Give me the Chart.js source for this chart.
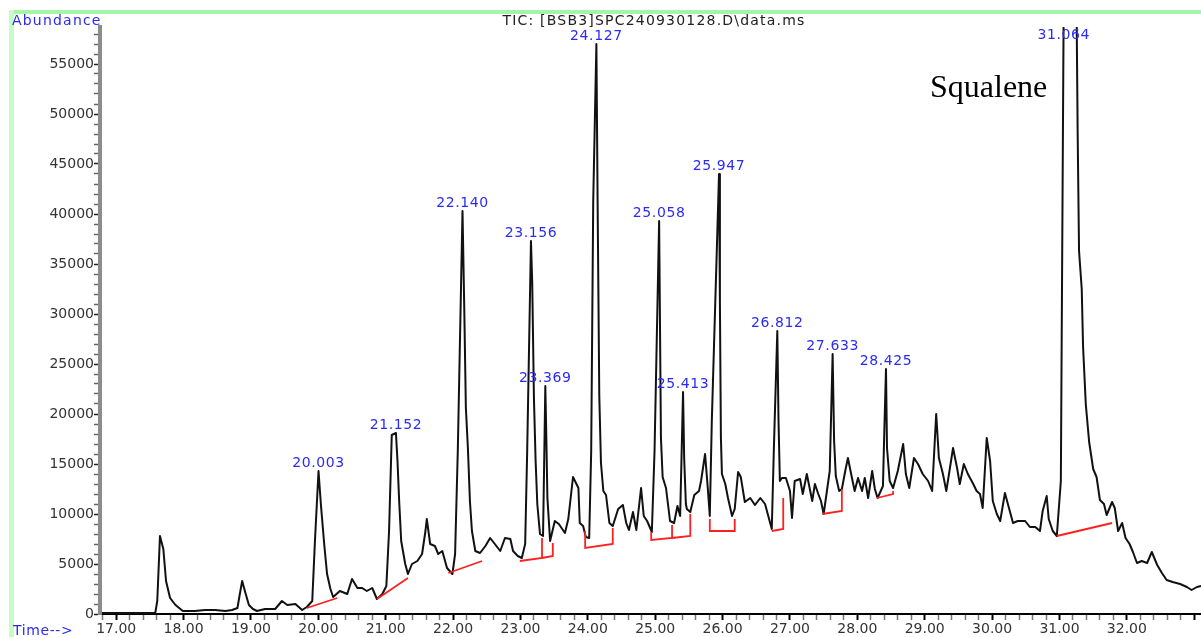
<!DOCTYPE html>
<html>
<head>
<meta charset="utf-8">
<script src="https://cdn.jsdelivr.net/npm/chart.js@4.4.1/dist/chart.umd.min.js"></script>
<style>
  html, body { margin: 0; padding: 0; background: #fff; }
  canvas { display: block; }
</style>
</head>
<body>
<canvas id="tic" width="1201" height="637"></canvas>
<script>
// ─── DATA ─────────────────────────────────────────────────────────────────────
const TITLE = 'TIC: [BSB3]SPC240930128.D\\data.ms';

// retention time (min) and abundance of the total ion chromatogram
const RT = [
  16.76, 17.06, 17.36, 17.58, 17.61, 17.65, 17.70, 17.74, 17.80, 17.88, 17.99, 18.17, 18.32, 18.47, 18.62, 18.72,
  18.80, 18.83, 18.87, 18.91, 18.97, 19.03, 19.09, 19.21, 19.36, 19.46, 19.54, 19.66, 19.76, 19.83, 19.91, 19.95,
  20.003, 20.04, 20.09, 20.13, 20.18, 20.22, 20.32, 20.43, 20.50, 20.58, 20.65, 20.72, 20.80, 20.87, 20.95, 21.01,
  21.05, 21.09, 21.152, 21.175, 21.20, 21.23, 21.29, 21.33, 21.39, 21.47, 21.54, 21.59, 21.61, 21.66, 21.73, 21.78,
  21.84, 21.91, 21.99, 22.03, 22.07, 22.140, 22.165, 22.19, 22.22, 22.25, 22.28, 22.33, 22.40, 22.48, 22.55, 22.62,
  22.70, 22.77, 22.85, 22.89, 22.96, 23.02, 23.07, 23.10, 23.156, 23.175, 23.20, 23.225, 23.25, 23.29, 23.335, 23.35,
  23.369, 23.385, 23.40, 23.44, 23.51, 23.57, 23.62, 23.66, 23.71, 23.78, 23.86, 23.88, 23.93, 23.97, 24.02, 24.05,
  24.08, 24.127, 24.145, 24.17, 24.195, 24.23, 24.27, 24.32, 24.37, 24.45, 24.52, 24.57, 24.61, 24.67, 24.72, 24.79,
  24.83, 24.88, 24.95, 24.99, 25.058, 25.085, 25.11, 25.16, 25.22, 25.28, 25.33, 25.37, 25.39, 25.413, 25.43, 25.455,
  25.47, 25.52, 25.58, 25.65, 25.68, 25.74, 25.78, 25.81, 25.84, 25.947, 25.96, 25.975, 25.99, 26.04, 26.08, 26.14,
  26.18, 26.23, 26.27, 26.33, 26.41, 26.48, 26.56, 26.63, 26.67, 26.73, 26.76, 26.812, 26.83, 26.85, 26.88, 26.94,
  27.00, 27.03, 27.07, 27.15, 27.19, 27.25, 27.33, 27.37, 27.42, 27.46, 27.50, 27.59, 27.633, 27.655, 27.68, 27.73,
  27.77, 27.82, 27.86, 27.92, 27.96, 28.01, 28.07, 28.11, 28.16, 28.22, 28.26, 28.30, 28.38, 28.40, 28.425, 28.44,
  28.48, 28.53, 28.60, 28.68, 28.72, 28.77, 28.84, 28.90, 28.97, 29.05, 29.11, 29.17, 29.21, 29.27, 29.32, 29.36,
  29.42, 29.48, 29.52, 29.58, 29.64, 29.72, 29.77, 29.82, 29.86, 29.92, 29.97, 30.01, 30.07, 30.12, 30.19, 30.25,
  30.31, 30.38, 30.49, 30.56, 30.64, 30.71, 30.75, 30.81, 30.84, 30.90, 30.96, 31.02, 31.064, 31.16, 31.25, 31.27,
  31.29, 31.33, 31.35, 31.39, 31.44, 31.50, 31.55, 31.60, 31.66, 31.70, 31.78, 31.82, 31.87, 31.93, 31.98, 32.04,
  32.09, 32.15, 32.22, 32.30, 32.37, 32.45, 32.52, 32.59, 32.68, 32.79, 32.89, 32.96, 33.04, 33.10
];
const ABUND = [
  100, 100, 100, 100, 1300, 7800, 6500, 3300, 1600, 900, 300, 300, 400, 400, 300, 400,
  600, 1800, 3300, 2300, 900, 500, 300, 500, 500, 1300, 900, 1000, 400, 700, 1300, 7300,
  14300, 10800, 6800, 4000, 2500, 1700, 2300, 2000, 3500, 2600, 2600, 2300, 2600, 1500, 2000, 2800,
  8300, 17900, 18100, 15300, 11300, 7300, 5000, 4000, 5000, 5300, 6000, 8300, 9500, 7000, 6800, 6000,
  6300, 4600, 4000, 6000, 16300, 40300, 31000, 20600, 16600, 11300, 8300, 6300, 6100, 6800, 7600, 7000,
  6300, 7600, 7500, 6300, 5800, 5600, 7000, 16300, 37300, 33000, 21600, 15300, 11000, 8000, 7800, 14300,
  22800, 17300, 11600, 7300, 9300, 9000, 8500, 8100, 9500, 13700, 12600, 9100, 8800, 7700, 7600, 16300,
  41300, 57000, 41300, 21800, 15100, 12300, 11900, 9100, 8800, 10500, 10900, 9100, 8400, 10200, 8400, 12600,
  9800, 9300, 8200, 16300, 39300, 17600, 13700, 12600, 9300, 9100, 10800, 9800, 15500, 22200, 15500, 11000,
  10500, 10200, 11900, 12300, 13300, 16000, 12600, 9800, 19300, 44000, 31300, 17600, 14000, 13000, 11600, 9800,
  10500, 14200, 13700, 11200, 11600, 10900, 11600, 11000, 10000, 8500, 16300, 28300, 19300, 13300, 13600, 13600,
  12300, 9600, 13300, 13500, 12000, 14000, 11300, 13000, 12000, 11300, 10000, 14300, 26000, 17300, 13800, 12300,
  12500, 14300, 15600, 13600, 12300, 13600, 12300, 13600, 11600, 14300, 12500, 11600, 12800, 18300, 24500, 16600,
  13300, 12600, 14300, 17000, 14000, 12600, 15600, 15000, 14000, 13300, 12300, 20000, 15600, 14000, 12300, 14000,
  16600, 14600, 13000, 15000, 14000, 13000, 12300, 12000, 10600, 17600, 15300, 11300, 10000, 9300, 12100, 10600,
  9100, 9300, 9300, 8700, 8700, 8300, 10300, 11800, 9500, 8300, 7800, 13300, 63000, 66000, 63000, 47800,
  36300, 32500, 26700, 21000, 17200, 14500, 13700, 11400, 11000, 9900, 11200, 10600, 8300, 9100, 7600, 7000,
  6200, 5100, 5300, 5100, 6200, 4900, 4100, 3400, 3200, 3000, 2700, 2400, 2700, 2800
];

// integration baselines (null breaks the line between peaks)
const BASE_RT = [
  19.83, 20.28, null, 20.87, 21.33, null, 21.93, 22.43, null,
  22.99, 23.32, 23.32, null, 23.32, 23.48, 23.48, null,
  23.96, 23.96, 24.37, 24.37, null, 24.94, 24.94, 25.25, 25.25, null,
  25.25, 25.52, 25.52, null, 25.81, 25.81, 26.18, 26.18, null,
  26.73, 26.90, 26.90, null, 27.48, 27.77, 27.77, null,
  28.29, 28.53, 28.53, null, 30.96, 31.78
];
const BASE_AB = [
  600, 1600, null, 1500, 3600, null, 4100, 5300, null,
  5300, 5600, 7600, null, 5600, 5800, 7100, null,
  8300, 6600, 7000, 8600, null, 8200, 7400, 7600, 8900, null,
  7600, 7800, 10000, null, 9500, 8300, 8300, 9500, null,
  8300, 8500, 11600, null, 10000, 10300, 12500, null,
  11600, 12000, 12300, null, 7800, 9100
];

// labelled peaks
const PEAK_LABELS = ['20.003', '21.152', '22.140', '23.156', '23.369', '24.127', '25.058',
                     '25.413', '25.947', '26.812', '27.633', '28.425', '31.064'];
const PEAK_TOP = [14300, 18100, 40300, 37300, 22800, 57000, 39300, 22200, 44000, 28300, 26000, 24500, 63000];

// axis ticks
const Y_LABELS = ['0', '5000', '10000', '15000', '20000', '25000', '30000', '35000', '40000', '45000', '50000', '55000'];
const Y_MINOR = 1000, Y_TOP = 58700;

// ─── DECORATION ───────────────────────────────────────────────────────────────
const decor = {
  id: 'decor',
  afterDraw(chart) {
    const { ctx, chartArea, scales: { x, y } } = chart;
    ctx.save();
    ctx.fillStyle = '#a4f6a4'; ctx.fillRect(9, 10, 1192, 4);
    ctx.fillStyle = '#c6fdc6'; ctx.fillRect(9, 10, 5, 627);

    ctx.font = '14px "DejaVu Sans"';
    ctx.textBaseline = 'middle';
    ctx.letterSpacing = '1.2px';
    ctx.fillStyle = '#222'; ctx.textAlign = 'center';
    ctx.fillText(TITLE, 654, 21);
    ctx.fillStyle = '#2b2bf2'; ctx.textAlign = 'left';
    ctx.fillText('Abundance', 12, 21);
    ctx.letterSpacing = '0.6px';
    ctx.fillText('Time-->', 13, 631);

    ctx.textAlign = 'center';
    PEAK_LABELS.forEach((lab, i) => {
      const px = x.getPixelForValue(parseFloat(lab));
      const py = Math.max(y.getPixelForValue(PEAK_TOP[i]) - 8, chartArea.top + 8);
      ctx.fillText(lab, px, py);
    });

    ctx.letterSpacing = '0px';
    ctx.fillStyle = '#000'; ctx.textAlign = 'left'; ctx.textBaseline = 'alphabetic';
    ctx.font = '32px "Liberation Serif"';
    ctx.fillText('Squalene', 930, 97);
    ctx.restore();
  }
};

// ─── CHART ────────────────────────────────────────────────────────────────────
const isWhole = v => Math.abs(v - Math.round(v)) < 1e-6;
const yLabel = v => Y_LABELS.find(l => Number(l) === v) || '';
const tickFont = { family: 'DejaVu Sans', size: 14 };

new Chart(document.getElementById('tic'), {
  type: 'line',
  data: {
    datasets: [
      { data: RT.map((t, i) => ({ x: t, y: ABUND[i] })), borderColor: '#111', borderWidth: 2,
        borderJoinStyle: 'round', pointRadius: 0, clip: 0, order: 1 },
      { data: BASE_RT.map((t, i) => ({ x: t, y: BASE_AB[i] })), borderColor: '#ff2020', borderWidth: 1.8,
        pointRadius: 0, clip: 0, order: 0 }
    ]
  },
  options: {
    responsive: false, animation: false, events: [],
    layout: { padding: { top: 27, left: 0, right: 0, bottom: 0 } },
    plugins: { legend: { display: false }, tooltip: { enabled: false } },
    scales: {
      x: {
        type: 'linear', min: 16.76, max: 33.1,
        afterFit: s => { s.height = 23; },
        border: { color: '#000', width: 2 },
        grid: {
          drawOnChartArea: false, tickLength: 6,
          tickColor: c => isWhole(c.tick.value) ? '#000' : '#777',
          tickWidth: c => isWhole(c.tick.value) ? 2 : 1.5
        },
        ticks: {
          stepSize: 0.2, autoSkip: false, maxRotation: 0, includeBounds: false, padding: 1,
          color: '#333', font: tickFont,
          callback: v => (isWhole(v) && Math.round(v) <= 32) ? Math.round(v).toFixed(2) : ''
        }
      },
      y: {
        type: 'linear', min: 0, max: Y_TOP,
        afterFit: s => { s.width = 100; },
        afterBuildTicks: s => {
          s.ticks = [];
          for (let v = 0; v < Y_TOP; v += Y_MINOR) s.ticks.push({ value: v });
        },
        border: { color: '#8c8c8c', width: 4, z: 1 },
        grid: {
          drawOnChartArea: false, tickLength: 6, tickWidth: 1.5,
          tickColor: c => yLabel(c.tick.value) ? '#222' : '#666'
        },
        ticks: {
          autoSkip: false, padding: 0, color: '#333', font: tickFont,
          callback: v => yLabel(v)
        }
      }
    }
  },
  plugins: [decor]
});
</script>
</body>
</html>
